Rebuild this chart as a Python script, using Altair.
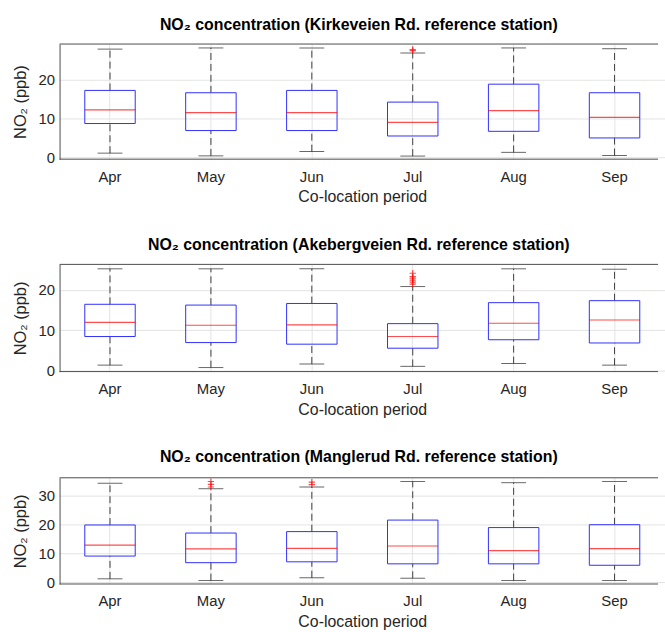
import altair as alt
import pandas as pd

months = ["Apr", "May", "Jun", "Jul", "Aug", "Sep"]

# Kirkeveien Rd.
k_lower = [1.1, 0.4, 1.5, 0.35, 1.3, 0.5]
k_q1 = [8.7, 6.9, 6.9, 5.5, 6.7, 5.0]
k_med = [12.2, 11.5, 11.5, 9.0, 12.0, 10.3]
k_q3 = [17.2, 16.6, 17.2, 14.2, 18.8, 16.6]
k_upper = [27.8, 28.1, 28.1, 26.8, 28.1, 27.9]
k_out_month = ["Jul", "Jul"]
k_out_val = [27.4, 27.7]

# Akebergveien Rd.
a_lower = [1.3, 0.7, 1.6, 1.0, 1.7, 1.3]
a_q1 = [8.4, 6.9, 6.5, 5.5, 7.6, 6.8]
a_med = [11.9, 11.2, 11.3, 8.4, 11.7, 12.5]
a_q3 = [16.4, 16.2, 16.6, 11.6, 16.8, 17.3]
a_upper = [25.2, 25.2, 25.2, 20.8, 25.2, 25.1]
a_out_month = ["Jul", "Jul", "Jul", "Jul", "Jul", "Jul"]
a_out_val = [21.4, 21.9, 22.4, 22.9, 23.3, 24.1]

# Manglerud Rd.
m_lower = [1.2, 0.6, 1.6, 1.4, 0.6, 0.6]
m_q1 = [9.1, 6.8, 7.1, 6.4, 6.4, 5.9]
m_med = [12.9, 11.6, 11.8, 12.6, 11.0, 11.7]
m_q3 = [19.9, 17.1, 17.6, 21.6, 19.0, 20.0]
m_upper = [34.4, 32.5, 33.1, 35.0, 34.6, 35.0]
m_out_month = ["May", "May", "May", "Jun", "Jun"]
m_out_val = [33.1, 34.0, 35.0, 33.9, 34.8]

FONT = "Liberation Sans"
TXT = "#262626"
BORDER = "#4d4d4d"
PLUS = "M-1,0L1,0M0,-1L0,1"
W = 603          # visible plot width (the axes run past the window edge)
XRANGE = 610     # full axes width as in the reference


def panel(station, lower, q1, med, q3, upper, om, ov, ydom, yticks, h):
    df = pd.DataFrame({"month": months, "lower": lower, "q1": q1,
                       "med": med, "q3": q3, "upper": upper})
    dfo = pd.DataFrame({"month": om, "val": ov})
    xs = alt.Scale(domain=months, paddingInner=0.5, paddingOuter=0.25,
                   range=[0, XRANGE])
    ys = alt.Scale(domain=ydom, nice=False, zero=False)
    x = alt.X("month:N", scale=xs, sort=months, title="Co-location period",
              axis=alt.Axis(labelAngle=0, tickSize=0, labelPadding=10,
                            titlePadding=5, grid=True, domain=False))
    yax = alt.Axis(values=yticks, tickSize=0, labelPadding=5, titlePadding=10,
                   grid=True, title="NO₂ (ppb)", titleFontSize=16.5)
    base = alt.Chart(df)
    w_lo = base.mark_rule(strokeDash=[7, 4], color="#404040", strokeWidth=1).encode(
        x=x, y=alt.Y("lower:Q", scale=ys, axis=yax), y2="q1:Q")
    w_hi = base.mark_rule(strokeDash=[7, 4], color="#404040", strokeWidth=1).encode(
        x=x, y=alt.Y("q3:Q", scale=ys, axis=yax), y2="upper:Q")
    cap_lo = base.mark_tick(color="#262626", size=25, thickness=1).encode(
        x=x, y=alt.Y("lower:Q", scale=ys, axis=yax))
    cap_hi = base.mark_tick(color="#262626", size=25, thickness=1).encode(
        x=x, y=alt.Y("upper:Q", scale=ys, axis=yax))
    box = base.mark_bar(fillOpacity=0, stroke="#3030ff", strokeWidth=1).encode(
        x=x, y=alt.Y("q1:Q", scale=ys, axis=yax), y2="q3:Q")
    median = base.mark_tick(color="#ff0000", size=51, thickness=1.2).encode(
        x=x, y=alt.Y("med:Q", scale=ys, axis=yax))
    outl = alt.Chart(dfo).mark_point(shape=PLUS, size=40, filled=False,
                                      color="#ff0000", strokeWidth=1.2).encode(
        x=x, y=alt.Y("val:Q", scale=ys, axis=yax))
    frame = alt.Chart(pd.DataFrame({"k": [0]}))
    top = frame.mark_rule(color=BORDER, strokeWidth=1).encode(
        x=alt.value(0), x2=alt.value(W), y=alt.value(0))
    bottom = frame.mark_rule(color=BORDER, strokeWidth=1).encode(
        x=alt.value(0), x2=alt.value(W), y=alt.value(h))
    title = alt.Title(f"NO₂ concentration ({station} reference station)",
                      fontSize=16, fontWeight="bold", font=FONT, color="#000000",
                      offset=11)
    return alt.layer(w_lo, w_hi, cap_lo, cap_hi, box, median, outl,
                     top, bottom).properties(width=W, height=h, title=title)


p1 = panel("Kirkeveien Rd.", k_lower, k_q1, k_med, k_q3, k_upper,
           k_out_month, k_out_val, [-0.45, 29.1], [0, 10, 20], 116)
p2 = panel("Akebergveien Rd.", a_lower, a_q1, a_med, a_q3, a_upper,
           a_out_month, a_out_val, [-0.3, 26.3], [0, 10, 20], 108)
p3 = panel("Manglerud Rd.", m_lower, m_q1, m_med, m_q3, m_upper,
           m_out_month, m_out_val, [-0.6, 36.3], [0, 10, 20, 30], 107)

chart = alt.vconcat(p1, p2, p3, spacing=32).properties(
    padding={"left": 12, "top": 14, "right": 0, "bottom": 0}
).configure(font=FONT, background="white").configure_view(
    strokeOpacity=0
).configure_axis(
    labelFont=FONT, titleFont=FONT, labelFontSize=15, titleFontSize=16,
    labelColor=TXT, titleColor=TXT, titleFontWeight="normal",
    gridColor="#e3e3e3", gridWidth=1, domainColor=BORDER
)

chart.save("out.html", embed_options={"renderer": "svg", "actions": False})
